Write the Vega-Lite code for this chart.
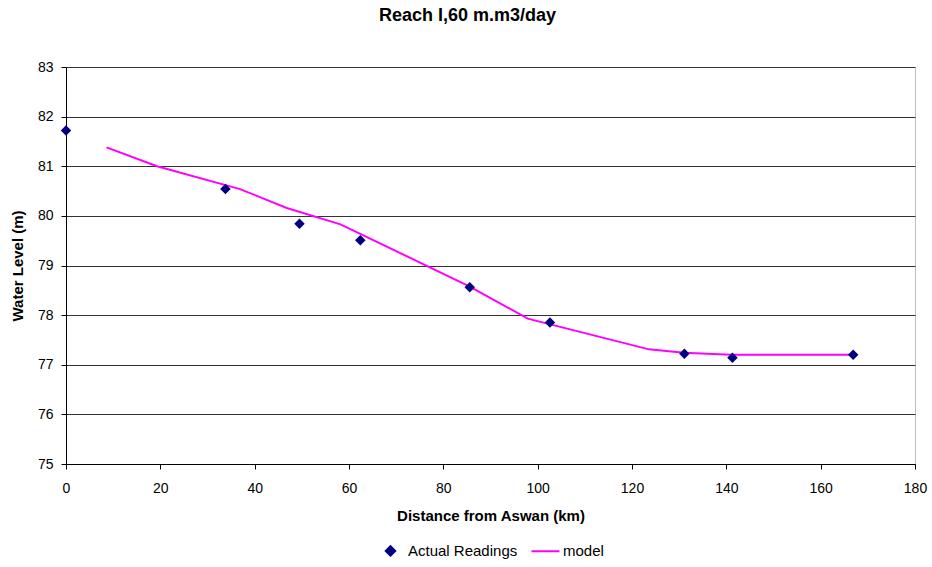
{
  "$schema": "https://vega.github.io/schema/vega-lite/v6.json",
  "width": 849,
  "height": 397,
  "autosize": {"type": "none"},
  "padding": {"left": 66, "top": 67, "right": 17, "bottom": 103},
  "background": "white",
  "config": {
    "font": "Liberation Sans",
    "view": {"stroke": "#c0c0c0", "strokeWidth": 1}
  },
  "title": {
    "text": "Reach I,60 m.m3/day",
    "font": "Liberation Sans",
    "fontSize": 18,
    "fontWeight": "bold",
    "color": "black",
    "anchor": "middle",
    "dx": -23,
    "offset": 35
  },
  "datasets": {
    "readings": [
      {"distance": 0, "level": 81.72, "series": "Actual Readings"},
      {"distance": 33.8, "level": 80.54, "series": "Actual Readings"},
      {"distance": 49.5, "level": 79.84, "series": "Actual Readings"},
      {"distance": 62.4, "level": 79.51, "series": "Actual Readings"},
      {"distance": 85.6, "level": 78.56, "series": "Actual Readings"},
      {"distance": 102.6, "level": 77.85, "series": "Actual Readings"},
      {"distance": 131.1, "level": 77.22, "series": "Actual Readings"},
      {"distance": 141.3, "level": 77.14, "series": "Actual Readings"},
      {"distance": 166.9, "level": 77.2, "series": "Actual Readings"}
    ],
    "model": [
      {"distance": 8.6, "level": 81.38, "series": "model"},
      {"distance": 19.3, "level": 81.0, "series": "model"},
      {"distance": 36.9, "level": 80.54, "series": "model"},
      {"distance": 46.8, "level": 80.16, "series": "model"},
      {"distance": 58.2, "level": 79.83, "series": "model"},
      {"distance": 85.5, "level": 78.58, "series": "model"},
      {"distance": 97.9, "level": 77.93, "series": "model"},
      {"distance": 123.6, "level": 77.31, "series": "model"},
      {"distance": 131.0, "level": 77.24, "series": "model"},
      {"distance": 141.0, "level": 77.2, "series": "model"},
      {"distance": 166.8, "level": 77.2, "series": "model"}
    ]
  },
  "encoding": {
    "x": {
      "field": "distance",
      "type": "quantitative",
      "scale": {"domain": [0, 180], "nice": false},
      "axis": {
        "title": "Distance from Aswan (km)",
        "values": [0, 20, 40, 60, 80, 100, 120, 140, 160, 180],
        "grid": false,
        "labelFlush": false,
        "domainColor": "black",
        "tickColor": "black",
        "tickSize": 5,
        "labelFontSize": 14,
        "labelColor": "black",
        "labelPadding": 12,
        "titleFontSize": 15,
        "titleFontWeight": "bold",
        "titleColor": "black",
        "titlePadding": 13
      }
    },
    "y": {
      "field": "level",
      "type": "quantitative",
      "scale": {"domain": [75, 83], "nice": false, "zero": false},
      "axis": {
        "title": "Water Level (m)",
        "values": [75, 76, 77, 78, 79, 80, 81, 82, 83],
        "grid": true,
        "labelFlush": false,
        "gridColor": "#333333",
        "gridWidth": 1,
        "domainColor": "black",
        "tickColor": "black",
        "tickSize": 5,
        "labelFontSize": 14,
        "labelColor": "black",
        "labelPadding": 8,
        "titleFontSize": 15,
        "titleFontWeight": "bold",
        "titleColor": "black",
        "titlePadding": 12
      }
    },
    "color": {
      "field": "series",
      "type": "nominal",
      "scale": {"domain": ["Actual Readings", "model"], "range": ["#000080", "#ff00ff"]},
      "legend": {
        "orient": "none",
        "legendX": 317,
        "legendY": 476,
        "direction": "horizontal",
        "title": null,
        "labelFontSize": 15,
        "labelColor": "black",
        "symbolSize": 784,
        "labelOffset": 10,
        "columnPadding": 9,
        "encode": {
          "symbols": {
            "update": {
              "shape": {"signal": "datum.value === 'model' ? 'stroke' : 'diamond'"},
              "size": {"signal": "datum.value === 'model' ? 784 : 90"},
              "fill": {"signal": "datum.value === 'model' ? 'transparent' : '#000080'"},
              "stroke": {"signal": "datum.value === 'model' ? '#ff00ff' : '#000080'"},
              "strokeWidth": {"value": 2},
              "opacity": {"value": 1}
            }
          }
        }
      }
    }
  },
  "layer": [
    {
      "data": {"name": "model"},
      "mark": {"type": "line", "strokeWidth": 2},
      "encoding": {"order": {"field": "distance"}}
    },
    {
      "data": {"name": "readings"},
      "mark": {"type": "point", "shape": "diamond", "filled": true, "size": 110, "opacity": 1}
    }
  ]
}
